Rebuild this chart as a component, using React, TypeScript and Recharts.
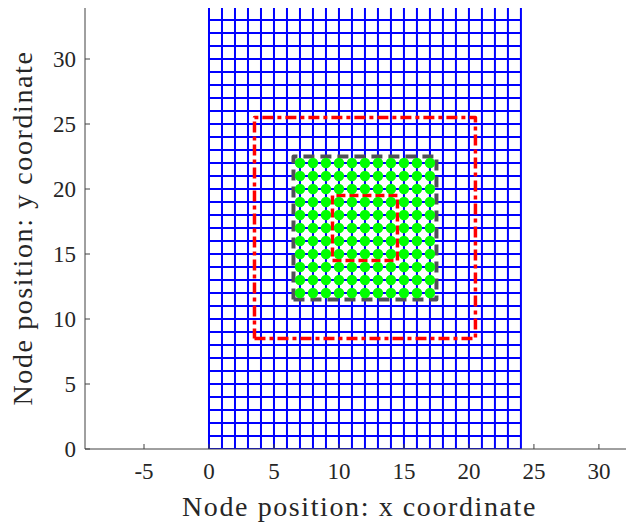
import React from "react";
import {
  ComposedChart,
  Line,
  Scatter,
  XAxis,
  YAxis,
} from "recharts";

// mesh lines (node coordinates of the full mesh)
const meshX = [0, 1, 2, 3, 4, 5, 6, 7, 8, 9, 10, 11, 12, 13, 14, 15, 16, 17, 18, 19, 20, 21, 22, 23, 24];
const meshY = [
  0, 1, 2, 3, 4, 5, 6, 7, 8, 9, 10, 11, 12, 13, 14, 15, 16, 17, 18, 19, 20,
  21, 22, 23, 24, 25, 26, 27, 28, 29, 30, 31, 32, 33, 34,
];

// highlighted nodes
const nodeX = [7, 8, 9, 10, 11, 12, 13, 14, 15, 16, 17];
const nodeY = [12, 13, 14, 15, 16, 17, 18, 19, 20, 21, 22];

// region boxes: [xmin, xmax], [ymin, ymax]
const outerBoxX = [3.5, 20.5];
const outerBoxY = [8.5, 25.5];
const midBoxX = [6.5, 17.5];
const midBoxY = [11.5, 22.5];
const innerBoxX = [9.5, 14.5];
const innerBoxY = [14.5, 19.5];

const xTicks = [-5, 0, 5, 10, 15, 20, 25, 30];
const yTicks = [0, 5, 10, 15, 20, 25, 30];

const FONT = "'Liberation Serif', 'Times New Roman', serif";
const TEXT = "#262626";

const boxPath = (bx: number[], by: number[]) => [
  { x: bx[0], y: by[0] },
  { x: bx[1], y: by[0] },
  { x: bx[1], y: by[1] },
  { x: bx[0], y: by[1] },
  { x: bx[0], y: by[0] },
];

const nodes = nodeX.flatMap((x) => nodeY.map((y) => ({ x, y })));

const Dot = (props: any) => {
  const { cx, cy } = props;
  return <circle cx={cx} cy={cy} r={5.2} fill="#00ff00" />;
};

export default function App() {
  const xMin = meshX[0];
  const xMax = meshX[meshX.length - 1];
  const yMin = meshY[0];
  const yMax = meshY[meshY.length - 1];

  return (
    <div style={{ margin: "-8px 0 0 -8px" }}>
      <ComposedChart
        width={634}
        height={527}
        margin={{ top: 7, right: 0, bottom: 0, left: 0 }}
      >
        <XAxis
          type="number"
          dataKey="x"
          domain={[-9.54, 32.7]}
          ticks={xTicks}
          allowDataOverflow
          height={78}
          tickSize={-5}
          tickMargin={19}
          stroke="#404040"
          tick={{ fill: TEXT, fontSize: 23, fontFamily: FONT }}
          label={{
            value: "Node position: x coordinate",
            position: "insideBottom",
            offset: 11,
            style: { fill: TEXT, fontSize: 28, fontFamily: FONT, letterSpacing: 1.6 },
          }}
        />
        <YAxis
          type="number"
          dataKey="y"
          domain={[0, 34]}
          ticks={yTicks}
          allowDataOverflow
          width={85}
          tickSize={-5}
          tickMargin={14}
          stroke="#404040"
          tick={{ fill: TEXT, fontSize: 23, fontFamily: FONT }}
          label={{
            value: "Node position: y coordinate",
            angle: -90,
            position: "insideLeft",
            offset: 22,
            style: { fill: TEXT, fontSize: 28, fontFamily: FONT, textAnchor: "middle", letterSpacing: 1.6 },
          }}
        />
        {meshX.map((x) => (
          <Line
            key={"v" + x}
            data={[{ x, y: yMin }, { x, y: yMax }]}
            dataKey="y"
            stroke="#0000ff"
            strokeWidth={2}
            dot={false}
            activeDot={false}
            isAnimationActive={false}
          />
        ))}
        {meshY.map((y) => (
          <Line
            key={"h" + y}
            data={[{ x: xMin, y }, { x: xMax, y }]}
            dataKey="y"
            stroke="#0000ff"
            strokeWidth={2}
            dot={false}
            activeDot={false}
            isAnimationActive={false}
          />
        ))}
        <Line
          data={boxPath(outerBoxX, outerBoxY)}
          dataKey="y"
          stroke="#ff0000"
          strokeWidth={3.5}
          strokeDasharray="11 4 4 4"
          strokeLinejoin="round"
          dot={false}
          activeDot={false}
          isAnimationActive={false}
        />
        <Line
          data={boxPath(midBoxX, midBoxY)}
          dataKey="y"
          stroke="#505058"
          strokeWidth={4}
          strokeDasharray="11 6"
          strokeLinejoin="round"
          dot={false}
          activeDot={false}
          isAnimationActive={false}
        />
        <Line
          data={boxPath(innerBoxX, innerBoxY)}
          dataKey="y"
          stroke="#ff0000"
          strokeWidth={3.5}
          strokeDasharray="9 4"
          strokeLinejoin="round"
          dot={false}
          activeDot={false}
          isAnimationActive={false}
        />
        <Scatter
          data={nodes}
          dataKey="y"
          shape={<Dot />}
          isAnimationActive={false}
        />
      </ComposedChart>
    </div>
  );
}
